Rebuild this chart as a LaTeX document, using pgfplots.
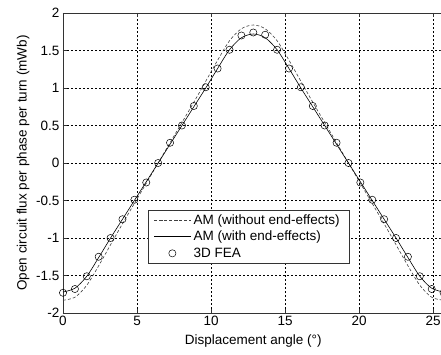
\documentclass[border=0pt]{standalone}
\usepackage{pgfplots}
\pgfplotsset{compat=1.18}
\usepackage{fontspec}
\setmainfont{Liberation Sans}
\pgfplotstableread{
x y
0.000 -1.72
0.804 -1.67
1.607 -1.51
2.411 -1.26
3.214 -1.00
4.018 -0.75
4.821 -0.50
5.625 -0.25
6.429 0.00
7.232 0.25
8.036 0.50
8.839 0.75
9.643 1.00
10.446 1.26
11.250 1.51
12.054 1.67
12.857 1.72
13.661 1.67
14.464 1.51
15.268 1.26
16.071 1.00
16.875 0.75
17.679 0.50
18.482 0.25
19.286 0.00
20.089 -0.25
20.893 -0.50
21.696 -0.75
22.500 -1.00
23.304 -1.26
24.107 -1.51
24.911 -1.67
25.714 -1.72
}\withend
\pgfplotstableread{
x y
0.000 -1.83
0.804 -1.79
1.607 -1.63
2.411 -1.37
3.214 -1.09
4.018 -0.81
4.821 -0.54
5.625 -0.27
6.429 0.00
7.232 0.27
8.036 0.54
8.839 0.81
9.643 1.09
10.446 1.37
11.250 1.63
12.054 1.79
12.857 1.84
13.661 1.79
14.464 1.63
15.268 1.37
16.071 1.09
16.875 0.81
17.679 0.54
18.482 0.27
19.286 0.00
20.089 -0.27
20.893 -0.54
21.696 -0.81
22.500 -1.09
23.304 -1.37
24.107 -1.63
24.911 -1.79
25.714 -1.83
}\withoutend
\pgfplotstableread{
x y
0.000 -1.73
0.804 -1.68
1.607 -1.51
2.411 -1.25
3.214 -1.00
4.018 -0.75
4.821 -0.49
5.625 -0.26
6.429 0.00
7.232 0.27
8.036 0.50
8.839 0.76
9.643 1.01
10.446 1.26
11.250 1.51
12.054 1.70
12.857 1.74
13.661 1.71
14.464 1.51
15.268 1.26
16.071 1.01
16.875 0.76
17.679 0.50
18.482 0.27
19.286 0.00
20.089 -0.26
20.893 -0.49
21.696 -0.75
22.500 -1.00
23.304 -1.25
24.107 -1.51
24.911 -1.68
25.714 -1.73
}\fea
\begin{document}
\begin{tikzpicture}
\useasboundingbox (-63pt,-41pt) rectangle (378pt,313pt);
\clip (-63pt,-41pt) rectangle (378pt,313pt);
\begin{axis}[
  scale only axis,
  width=380.6pt, height=300pt,
  xmin=0, xmax=25.714, ymin=-2, ymax=2,
  xtick={0,5,10,15,20,25},
  ytick={-2,-1.5,-1,-0.5,0,0.5,1,1.5,2},
  font=\fontsize{13.5}{15}\selectfont,
  /pgf/number format/assume math mode=true,
  tick align=inside,
  major tick length=4pt,
  tick style={black!80, line width=0.5pt},
  axis line style={black!80, line width=0.6pt},
  grid=major,
  major grid style={black, line width=0.5pt, dash pattern=on 2pt off 2pt},
  xlabel={Displacement angle (°)},
  ylabel={Open circuit flux per phase per turn (mWb)},
  xlabel style={yshift=-2pt},
  ylabel style={yshift=0pt},
  legend style={at={(0.223,0.343)}, anchor=north west, draw=black!80, fill=white,
    font=\fontsize{13.5}{15}\selectfont, inner xsep=6pt, inner ysep=2pt, row sep=1.5pt,
    nodes={inner xsep=3pt}},
  legend cell align=left,
  legend image code/.code={\draw[mark repeat=2,mark phase=2,#1] plot coordinates {(0pt,0pt) (18pt,0pt) (36pt,0pt)};},
]
\addplot[black!75, line width=0.6pt, dash pattern=on 3pt off 2pt, smooth, no markers] table[x=x,y=y] {\withoutend};
\addlegendentry{AM (without end-effects)\hspace{3pt}}
\addplot[black, line width=0.6pt, smooth, no markers] table[x=x,y=y] {\withend};
\addlegendentry{AM (with end-effects)}
\addplot[black, only marks, mark=o, mark size=3.6pt, mark options={line width=0.5pt}] table[x=x,y=y] {\fea};
\addlegendentry{3D FEA}
\end{axis}
\end{tikzpicture}
\end{document}
